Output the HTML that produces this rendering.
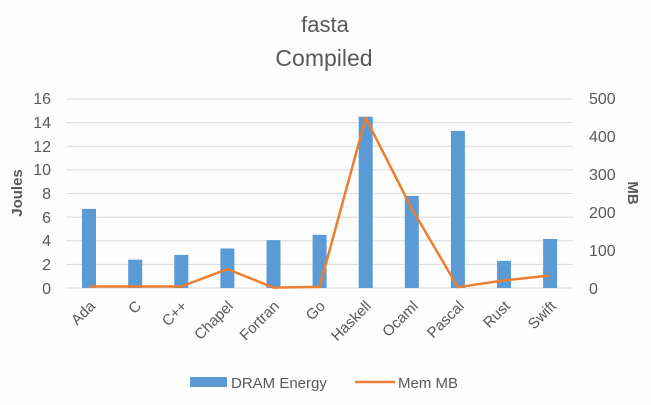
<!DOCTYPE html>
<html><head><meta charset="utf-8"><style>
html,body{margin:0;padding:0;background:#fdfdfd;}
svg{display:block;font-family:"Liberation Sans",sans-serif;}
</style></head><body>
<svg width="651" height="405" viewBox="0 0 651 405">
<rect width="651" height="405" fill="#fdfdfd"/>
<text x="325" y="32" text-anchor="middle" font-size="22" fill="#595959">fasta</text>
<text x="324" y="66" text-anchor="middle" font-size="23" fill="#595959">Compiled</text>
<g stroke="#d9d9d9" stroke-width="1">
<line x1="66" x2="573" y1="99" y2="99"/><line x1="66" x2="573" y1="122.6" y2="122.6"/>
<line x1="66" x2="573" y1="146.2" y2="146.2"/><line x1="66" x2="573" y1="169.9" y2="169.9"/>
<line x1="66" x2="573" y1="193.5" y2="193.5"/><line x1="66" x2="573" y1="217.1" y2="217.1"/>
<line x1="66" x2="573" y1="240.7" y2="240.7"/><line x1="66" x2="573" y1="264.4" y2="264.4"/>
<line x1="66" x2="573" y1="288" y2="288"/>
</g>
<g font-size="16" fill="#595959" text-anchor="end">
<text x="51" y="104">16</text><text x="51" y="128">14</text><text x="51" y="152">12</text>
<text x="51" y="175">10</text><text x="51" y="199">8</text><text x="51" y="223">6</text>
<text x="51" y="246">4</text><text x="51" y="270">2</text><text x="51" y="294">0</text>
</g>
<g font-size="16" fill="#595959" text-anchor="start">
<text x="589" y="104">500</text><text x="589" y="142">400</text><text x="589" y="180">300</text>
<text x="589" y="218">200</text><text x="589" y="256">100</text><text x="589" y="294">0</text>
</g>
<text transform="translate(22,193) rotate(-90)" text-anchor="middle" font-size="15" font-weight="bold" fill="#595959">Joules</text>
<text transform="translate(628,193) rotate(90)" text-anchor="middle" font-size="15" font-weight="bold" fill="#595959">MB</text>
<g fill="#5b9bd5">
<rect x="82" y="208.9" width="14" height="79.1"/>
<rect x="128.2" y="259.7" width="14" height="28.3"/>
<rect x="174.3" y="254.9" width="14" height="33.1"/>
<rect x="220.4" y="248.5" width="14" height="39.5"/>
<rect x="266.5" y="240.2" width="14" height="47.8"/>
<rect x="312.6" y="234.8" width="14" height="53.2"/>
<rect x="358.7" y="116.7" width="14" height="171.3"/>
<rect x="404.8" y="195.9" width="14" height="92.1"/>
<rect x="450.9" y="130.9" width="14" height="157.1"/>
<rect x="497" y="260.8" width="14" height="27.2"/>
<rect x="543.1" y="239" width="14" height="49"/>
</g>
<polyline fill="none" stroke="#ed7d31" stroke-width="2.5" stroke-linejoin="round"
points="89,286.5 135.2,286.5 181.3,286.5 227.4,269.1 273.5,287.6 319.6,286.9 365.7,118 411.8,208.6 457.9,287.2 504,280.4 550.1,275.5"/>
<g font-size="15" fill="#595959" text-anchor="end">
<text transform="translate(96,307) rotate(-45)">Ada</text>
<text transform="translate(142,307) rotate(-45)">C</text>
<text transform="translate(188,307) rotate(-45)">C++</text>
<text transform="translate(234,307) rotate(-45)">Chapel</text>
<text transform="translate(280,307) rotate(-45)">Fortran</text>
<text transform="translate(326,307) rotate(-45)">Go</text>
<text transform="translate(372,307) rotate(-45)">Haskell</text>
<text transform="translate(419,307) rotate(-45)">Ocaml</text>
<text transform="translate(465,307) rotate(-45)">Pascal</text>
<text transform="translate(511,307) rotate(-45)">Rust</text>
<text transform="translate(557,307) rotate(-45)">Swift</text>
</g>
<rect x="190" y="377" width="37" height="10" fill="#5b9bd5"/>
<text x="231" y="388" font-size="15" fill="#595959">DRAM Energy</text>
<line x1="355" x2="395" y1="382" y2="382" stroke="#ed7d31" stroke-width="2.5"/>
<text x="398" y="388" font-size="15" fill="#595959">Mem MB</text>
</svg>
</body></html>
